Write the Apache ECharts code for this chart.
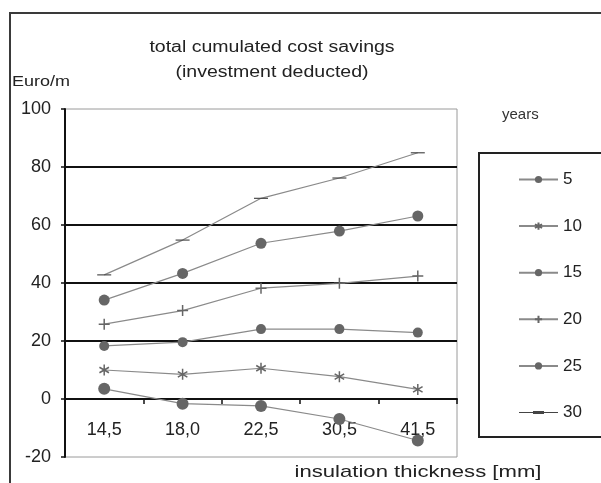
<!DOCTYPE html>
<html>
<head>
<meta charset="utf-8">
<script src="https://cdn.jsdelivr.net/npm/echarts@6/dist/echarts.min.js"></script>
<style>
  html, body { margin: 0; padding: 0; background: #fff; }
  #chart { width: 601px; height: 483px; }
</style>
</head>
<body>
<div id="chart"></div>
<script>
// Insulation thickness categories [mm]
const thickness = ['14,5', '18,0', '22,5', '30,5', '41,5'];

// Total cumulated cost savings (Euro/m), investment deducted, per period in years
const years5  = [3.5, -1.6, -2.4, -6.9, -14.3];
const years10 = [10.0, 8.5, 10.6, 7.7, 3.3];
const years15 = [18.3, 19.6, 24.1, 24.1, 22.9];
const years20 = [25.8, 30.5, 38.2, 39.9, 42.4];
const years25 = [34.1, 43.3, 53.7, 57.9, 63.1];
const years30 = [42.8, 54.8, 69.2, 76.2, 84.9];

const seriesNames = ['5', '10', '15', '20', '25', '30'];
const yTicks = { min: -20, max: 100, step: 20 };

const FONT = 'Liberation Sans, Arial, sans-serif';
const LINE = '#8a8a8a';
const MARK = '#666666';

const GRID = { left: 65, right: 144, top: 109, bottom: 26 };
const plotHeight = 483 - GRID.top - GRID.bottom;
// the category axis sits on the zero line of the value axis
const zeroOffset = -plotHeight * (0 - yTicks.min) / (yTicks.max - yTicks.min);

const asterisk = 'path://M0,-6L0,6M-5.2,-3L5.2,3M-5.2,3L5.2,-3';
const plus = 'path://M0,-6L0,6M-6,0L6,0';
const dash = 'path://M-7,-2L7,-2L7,2L-7,2Z';
// legend icon: thin line with a short thick dash in the middle (zero-area strips fix the box)
const dashLegendIcon = 'path://M0,0L39,0L39,0ZM0,9L39,9L39,9ZM0,4L39,4L39,5L0,5ZM14,3L25,3L25,6L14,6Z';

function lineSeries(name, data, symbol, size, stroke, markColor) {
  const s = {
    name: name,
    type: 'line',
    data: data,
    symbol: symbol,
    symbolSize: size,
    symbolKeepAspect: true,
    lineStyle: { color: LINE, width: 1.2 },
    itemStyle: { color: markColor || MARK },
    emphasis: { disabled: true },
    z: 3
  };
  if (stroke) {
    s.itemStyle = { color: 'rgba(0,0,0,0)', borderColor: MARK, borderWidth: 1.5 };
  }
  return s;
}

const legendData = seriesNames.map(function (n) {
  return n === '30' ? { name: n, icon: dashLegendIcon } : { name: n };
});

const chart = echarts.init(document.getElementById('chart'), null, { renderer: 'canvas' });

chart.setOption({
  animation: false,
  backgroundColor: '#ffffff',
  grid: {
    left: GRID.left, right: GRID.right, top: GRID.top, bottom: GRID.bottom,
    outerBoundsMode: 'none', containLabel: false,
    show: true, borderColor: '#9a9a9a', borderWidth: 1
  },
  xAxis: {
    type: 'category',
    data: thickness,
    boundaryGap: true,
    position: 'bottom',
    offset: zeroOffset,
    axisLine: { onZero: false, lineStyle: { color: '#111', width: 2 } },
    axisTick: { show: true, inside: false, length: 5, lineStyle: { color: '#111', width: 1.5 } },
    axisLabel: { margin: 22, fontSize: 18, color: '#222', fontFamily: FONT },
    splitLine: { show: false }
  },
  yAxis: {
    type: 'value',
    min: yTicks.min, max: yTicks.max, interval: yTicks.step,
    axisLine: { show: true, lineStyle: { color: '#111', width: 2 } },
    axisTick: { show: true, inside: false, length: 4, lineStyle: { color: '#111', width: 1.5 } },
    axisLabel: { margin: 14, fontSize: 18, color: '#222', fontFamily: FONT },
    splitLine: {
      show: true, showMinLine: false, showMaxLine: false,
      lineStyle: { color: '#111', width: 2 }
    }
  },
  legend: {
    data: legendData,
    orient: 'vertical',
    left: 513, top: 166,
    itemWidth: 39, itemHeight: 9, itemGap: 29.6,
    textStyle: { fontSize: 17, color: '#222', fontFamily: FONT },
    selectedMode: false
  },
  graphic: [
    { type: 'rect', shape: { x: 10, y: 13, width: 620, height: 500 },
      style: { fill: 'none', stroke: '#3a3a3a', lineWidth: 2 }, silent: true },
    { type: 'rect', shape: { x: 479, y: 153, width: 150, height: 284 },
      style: { fill: 'none', stroke: '#222', lineWidth: 2 }, silent: true },
    { type: 'text', x: 272, y: 48, scaleX: 1.22,
      style: { text: 'total cumulated cost savings', font: '16px ' + FONT, fill: '#222',
               textAlign: 'center', textVerticalAlign: 'middle' } },
    { type: 'text', x: 272, y: 73, scaleX: 1.22,
      style: { text: '(investment deducted)', font: '16px ' + FONT, fill: '#222',
               textAlign: 'center', textVerticalAlign: 'middle' } },
    { type: 'text', x: 12, y: 82, scaleX: 1.2,
      style: { text: 'Euro/m', font: '15px ' + FONT, fill: '#222',
               textAlign: 'left', textVerticalAlign: 'middle' } },
    { type: 'text', x: 502, y: 115,
      style: { text: 'years', font: '15px ' + FONT, fill: '#333',
               textAlign: 'left', textVerticalAlign: 'middle' } },
    { type: 'text', x: 418, y: 472, scaleX: 1.3,
      style: { text: 'insulation thickness [mm]', font: '17px ' + FONT, fill: '#222',
               textAlign: 'center', textVerticalAlign: 'middle' } }
  ],
  series: [
    lineSeries('5', years5, 'circle', 12),
    lineSeries('10', years10, asterisk, 11, true),
    lineSeries('15', years15, 'circle', 10),
    lineSeries('20', years20, plus, 11, true),
    lineSeries('25', years25, 'circle', 11),
    lineSeries('30', years30, dash, [14, 4], false, '#444444')
  ]
});
</script>
</body>
</html>
